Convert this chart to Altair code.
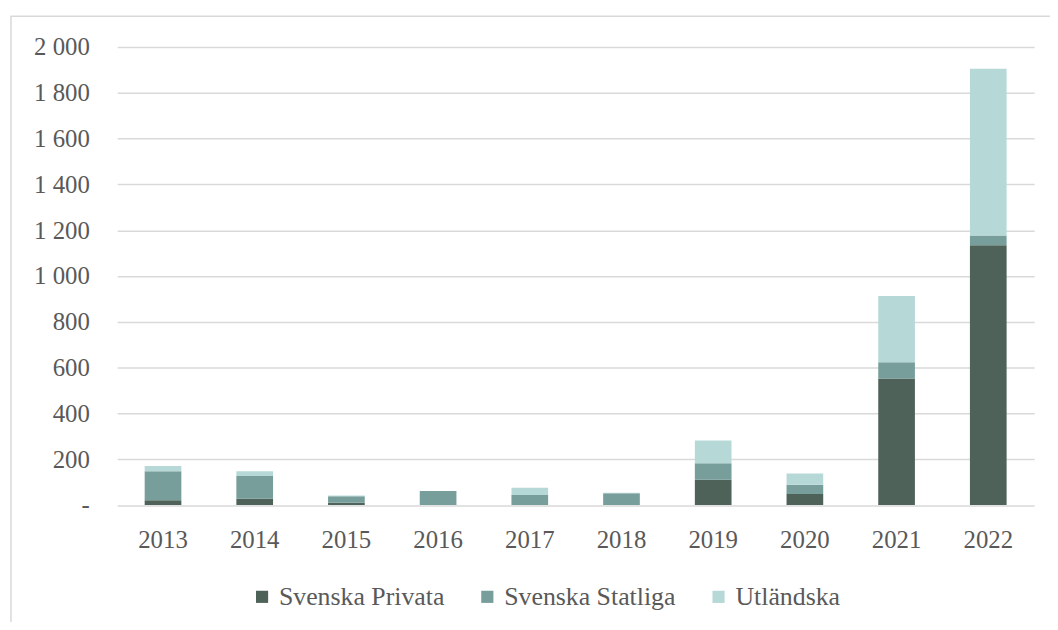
import altair as alt
import pandas as pd

years = ["2013", "2014", "2015", "2016", "2017", "2018", "2019", "2020", "2021", "2022"]
series = ["Svenska Privata", "Svenska Statliga", "Utländska"]
privata = [21, 27, 10, 0, 0, 0, 110, 48, 553, 1135]
statliga = [127, 100, 28, 61, 44, 52, 73, 41, 71, 42]
utlandska = [22, 21, 4, 0, 32, 2, 99, 49, 289, 728]
colors = ["#4f6259", "#779e9b", "#b6d9d8"]
y_ticks = [0, 200, 400, 600, 800, 1000, 1200, 1400, 1600, 1800, 2000]

rows = []
for i, y in enumerate(years):
    for k, (name, vals) in enumerate(zip(series, [privata, statliga, utlandska])):
        rows.append({"År": y, "Kategori": name, "Värde": vals[i], "ordning": k})
df = pd.DataFrame(rows)

FONT = "Liberation Serif"
TXT = "#595959"

bars = alt.Chart(df).mark_bar().encode(
    x=alt.X("År:N", sort=years,
            scale=alt.Scale(paddingInner=0.6, paddingOuter=0.3),
            axis=alt.Axis(title=None, labelAngle=0, ticks=False, domain=False,
                          labelFont=FONT, labelFontSize=25, labelColor=TXT,
                          labelPadding=23)),
    y=alt.Y("Värde:Q", stack="zero",
            scale=alt.Scale(domain=[0, 2000], nice=False),
            axis=alt.Axis(title=None, values=y_ticks, ticks=False, domain=False,
                          labelFont=FONT, labelFontSize=25, labelColor=TXT,
                          labelPadding=28, gridColor="#d9d9d9", gridWidth=1.5,
                          labelExpr="datum.value == 0 ? '-' : replace(format(datum.value, ','), ',', ' ')")),
    color=alt.Color("Kategori:N", sort=series,
                    scale=alt.Scale(domain=series, range=colors),
                    legend=alt.Legend(title=None, orient="none", direction="horizontal",
                                      legendX=133, legendY=541,
                                      symbolType="square", symbolSize=150,
                                      symbolStrokeWidth=0, labelFont=FONT,
                                      labelFontSize=26, labelColor=TXT, labelLimit=0,
                                      labelOffset=4, columnPadding=30)),
    order=alt.Order("ordning:Q", sort="ascending"),
)

border = alt.Chart(pd.DataFrame({"a": [0]})).mark_rect(
    fill="transparent", stroke="#d9d9d9", strokeWidth=1.5
).encode(
    x=alt.value(-107), x2=alt.value(980),
    y=alt.value(-31), y2=alt.value(700),
)

chart = alt.layer(border, bars).properties(
    width=924, height=461.5,
    background="white",
    autosize=alt.AutoSizeParams(type="none"),
    padding={"left": 110, "top": 37, "right": 16, "bottom": 115},
).configure_view(stroke=None)

chart.save("out.html", embed_options={"renderer": "svg", "actions": False})
